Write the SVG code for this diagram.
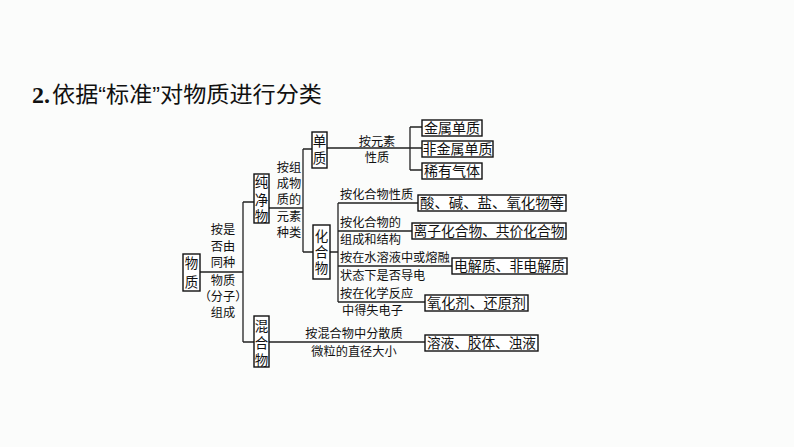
<svg xmlns="http://www.w3.org/2000/svg" width="794" height="447" viewBox="0 0 794 447">
<style>
.bg{fill:#fbfcfb}
.ln{stroke:#222;stroke-width:1.3;fill:none}
.bx{fill:#fff;stroke:#111;stroke-width:1.4}
.nt{font-family:"Liberation Sans","Noto Sans CJK SC",sans-serif;font-size:13.5px;fill:#111;text-anchor:middle;dominant-baseline:central}
.lb{font-family:"Liberation Sans","Noto Sans CJK SC",sans-serif;font-size:12.2px;fill:#111;dominant-baseline:central}
.lc{text-anchor:middle}
.bt{font-family:"Liberation Sans","Noto Sans CJK SC",sans-serif;font-size:14px;fill:#111;text-anchor:middle;dominant-baseline:central}
</style>
<rect class="bg" x="0" y="0" width="794" height="447"/>
<g id="title">
<text x="32" y="103" font-family="Liberation Serif,serif" font-weight="bold" font-size="24" fill="#111">2.</text>
<text x="52" y="102" font-family="Liberation Sans,Noto Sans CJK SC,sans-serif" font-size="22" fill="#111" textLength="270" lengthAdjust="spacingAndGlyphs">依据“标准”对物质进行分类</text>
</g>
<g id="connectors">
<path class="ln" d="M200 272H243M243 202V342M243 202H254M243 342H254"/>
<path class="ln" d="M269 208H303M303 149V252M303 149H312M303 252H313"/>
<path class="ln" d="M327 148H410M410 127V170M410 127H422M410 148H422M410 170H422"/>
<path class="ln" d="M330 252H338M338 203V302M338 203H418M338 231H412M338 266H452M338 302H425"/>
<path class="ln" d="M269 342H425"/>
</g>
<g id="n-wuzhi">
<rect class="bx" x="183" y="254" width="17" height="37"/>
<text class="nt"><tspan x="191.5" y="263">物</tspan><tspan x="191.5" y="282">质</tspan></text>
</g>
<g id="l-shifou">
<text class="lb lc"><tspan x="223" y="230">按是</tspan><tspan x="223" y="247">否由</tspan><tspan x="223" y="263">同种</tspan><tspan x="223" y="281">物质</tspan><tspan x="223" y="297">（分子）</tspan><tspan x="223" y="313">组成</tspan></text>
</g>
<g id="n-chunjingwu">
<rect class="bx" x="254" y="174" width="15" height="49"/>
<text class="nt"><tspan x="261.5" y="182">纯</tspan><tspan x="261.5" y="199.5">净</tspan><tspan x="261.5" y="216">物</tspan></text>
</g>
<g id="n-hunhewu">
<rect class="bx" x="254" y="316" width="15" height="51"/>
<text class="nt"><tspan x="261.5" y="326">混</tspan><tspan x="261.5" y="343">合</tspan><tspan x="261.5" y="360">物</tspan></text>
</g>
<g id="l-zucheng">
<text class="lb lc"><tspan x="289" y="168">按组</tspan><tspan x="289" y="184">成物</tspan><tspan x="289" y="200">质的</tspan><tspan x="289" y="217">元素</tspan><tspan x="289" y="233">种类</tspan></text>
</g>
<g id="n-danzhi">
<rect class="bx" x="312" y="132" width="15" height="36"/>
<text class="nt"><tspan x="319.5" y="141">单</tspan><tspan x="319.5" y="158">质</tspan></text>
</g>
<g id="n-huahewu">
<rect class="bx" x="313" y="225" width="17" height="54"/>
<text class="nt"><tspan x="321.5" y="236">化</tspan><tspan x="321.5" y="252">合</tspan><tspan x="321.5" y="268">物</tspan></text>
</g>
<g id="l-yuansu">
<text class="lb lc"><tspan x="377" y="142">按元素</tspan><tspan x="377" y="158">性质</tspan></text>
</g>
<g id="n-jinshu">
<rect class="bx" x="422" y="120" width="60" height="16"/>
<text class="bt" x="452" y="128">金属单质</text>
</g>
<g id="n-feijinshu">
<rect class="bx" x="422" y="141" width="71" height="16"/>
<text class="bt" x="457.5" y="149">非金属单质</text>
</g>
<g id="n-xiyou">
<rect class="bx" x="422" y="163" width="60" height="16"/>
<text class="bt" x="452" y="171">稀有气体</text>
</g>
<g id="l-xingzhi">
<text class="lb" x="340" y="195">按化合物性质</text>
</g>
<g id="n-suan">
<rect class="bx" x="418" y="195" width="148" height="16"/>
<text class="bt" x="492" y="203" textLength="144" lengthAdjust="spacingAndGlyphs">酸、碱、盐、氧化物等</text>
</g>
<g id="l-jiegou">
<text class="lb"><tspan x="340" y="223">按化合物的</tspan><tspan x="340" y="240">组成和结构</tspan></text>
</g>
<g id="n-lizi">
<rect class="bx" x="412" y="223" width="154" height="16"/>
<text class="bt" x="489" y="231" textLength="151" lengthAdjust="spacingAndGlyphs">离子化合物、共价化合物</text>
</g>
<g id="l-daodian">
<text class="lb"><tspan x="340" y="258">按在水溶液中或熔融</tspan><tspan x="340" y="276">状态下是否导电</tspan></text>
</g>
<g id="n-dianjiezhi">
<rect class="bx" x="452" y="258" width="115" height="16"/>
<text class="bt" x="509.5" y="266" textLength="111" lengthAdjust="spacingAndGlyphs">电解质、非电解质</text>
</g>
<g id="l-dianzi">
<text class="lb"><tspan x="340" y="294">按在化学反应</tspan><tspan x="342" y="311">中得失电子</tspan></text>
</g>
<g id="n-yanghuaji">
<rect class="bx" x="425" y="295" width="103" height="16"/>
<text class="bt" x="476.5" y="303" textLength="99" lengthAdjust="spacingAndGlyphs">氧化剂、还原剂</text>
</g>
<g id="l-fensan">
<text class="lb lc"><tspan x="354" y="334">按混合物中分散质</tspan><tspan x="354" y="352">微粒的直径大小</tspan></text>
</g>
<g id="n-rongye">
<rect class="bx" x="425" y="335" width="113" height="16"/>
<text class="bt" x="481.5" y="343" textLength="109" lengthAdjust="spacingAndGlyphs">溶液、胶体、浊液</text>
</g>
</svg>
